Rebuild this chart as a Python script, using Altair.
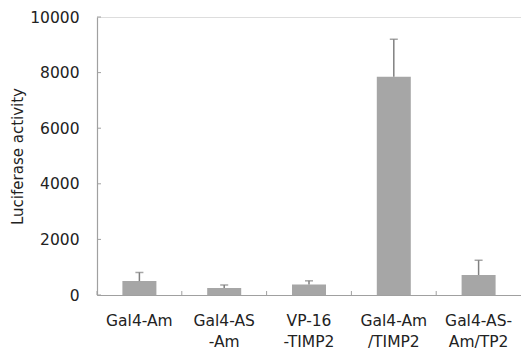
import altair as alt
import pandas as pd

categories = ["Gal4-Am", "Gal4-AS\n-Am", "VP-16\n-TIMP2", "Gal4-Am\n/TIMP2", "Gal4-AS-\nAm/TP2"]
values = [500, 250, 380, 7850, 720]
errors = [310, 110, 130, 1350, 530]
y_ticks = [0, 2000, 4000, 6000, 8000, 10000]

df = pd.DataFrame({"cat": categories, "val": values, "err": errors})
df["top"] = df["val"] + df["err"]
ticks_df = pd.DataFrame({"t": y_ticks})

W, H = 424, 278
font = "DejaVu Sans"

x = alt.X("cat:N", sort=categories, title=None,
          scale=alt.Scale(paddingInner=0, paddingOuter=0),
          axis=alt.Axis(labelExpr="split(datum.label, '\\n')", labelAngle=0,
                        labelFont=font, labelFontSize=15.5, labelColor="#222",
                        labelPadding=18, labelLineHeight=21, ticks=False,
                        domainColor="#a0a0a0", domainWidth=1.2, labelBaseline="top"))
y = alt.Y("val:Q", title="Luciferase activity",
          scale=alt.Scale(domain=[0, 10000], nice=False),
          axis=alt.Axis(values=y_ticks, grid=False, ticks=False, format="d",
                        labelFont=font, labelFontSize=15.5, labelColor="#222",
                        labelPadding=18, titleFont=font, titleFontSize=15,
                        titleFontWeight="normal", titleColor="#222", titlePadding=4,
                        domainColor="#a0a0a0", domainWidth=1.2))

base = alt.Chart(df)
bars = base.mark_bar(size=34, color="#a6a6a6").encode(x=x, y=y)
err = base.mark_rule(color="#808080", strokeWidth=1.5).encode(
    x=alt.X("cat:N", sort=categories), y="val:Q", y2="top:Q")
caps = base.mark_tick(orient="horizontal", size=8, thickness=1.5, color="#808080").encode(
    x=alt.X("cat:N", sort=categories), y="top:Q")
xt = base.mark_rule(color="#a0a0a0", strokeWidth=1).encode(
    x=alt.X("cat:N", sort=categories, bandPosition=0),
    y=alt.value(H), y2=alt.value(H - 4))
yt = alt.Chart(ticks_df).mark_rule(color="#a0a0a0", strokeWidth=1).encode(
    y=alt.Y("t:Q"), x=alt.value(0), x2=alt.value(4))

chart = alt.layer(bars, err, caps, xt, yt).properties(
    width=W, height=H,
    autosize=alt.AutoSizeParams(type="none"),
    padding={"left": 97, "top": 17, "right": 0, "bottom": 61},
).configure_view(stroke=None).configure(background="white")

chart.save("out.html", embed_options={"renderer": "svg", "actions": False})
